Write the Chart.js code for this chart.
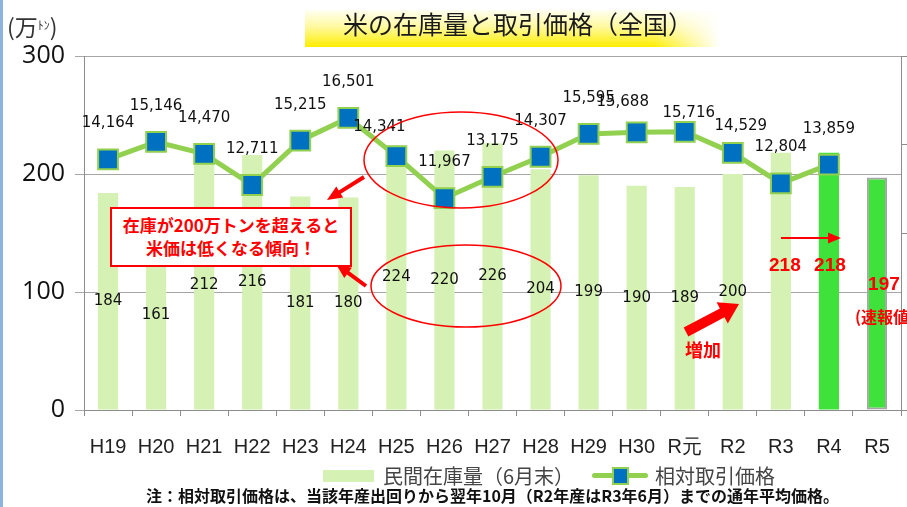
<!DOCTYPE html>
<html>
<head>
<meta charset="utf-8">
<script src="https://cdn.jsdelivr.net/npm/chart.js@4/dist/chart.umd.min.js"></script>
<style>
  html, body { margin: 0; padding: 0; background: #fff; }
  #wrap { position: relative; width: 907px; height: 507px; overflow: hidden; font-family: "Noto Sans CJK JP", sans-serif; }
  #edge { position: absolute; left: 0; top: 0; width: 3px; height: 507px; background: #8fb3e0; }
  #chart { position: absolute; left: 0; top: 0; }
  #band { position: absolute; left: 305px; top: 10px; width: 415px; height: 37px;
    background: linear-gradient(to right, rgba(255,255,255,0) 84%, #fff 100%),
                linear-gradient(to bottom, #fffff2 0%, #fff9a0 45%, #ffee00 100%); }
  #title { position: absolute; left: 343px; top: 8px; font-size: 25px; line-height: 30px; color: #1a1a1a; white-space: nowrap; }
  #unit { position: absolute; left: 7px; top: 11px; font-size: 23px; line-height: 30px; color: #333; white-space: nowrap; }
  #unit small { font-size: 12px; position: relative; top: -6px; }
  #note { position: absolute; left: 0; width: 985px; top: 485px; text-align: center; font-size: 16px; font-weight: 700; line-height: 20px; color: #111; white-space: nowrap; }
  #box { position: absolute; left: 110px; top: 207px; width: 238px; height: 52px; border: 2px solid #ff0000; background: #fff;
    color: #ff0000; font-weight: 700; font-size: 17px; line-height: 23px; text-align: center; padding-top: 4px; box-sizing: content-box; }
  .leg { position: absolute; top: 464px; font-size: 20px; line-height: 24px; color: #444; white-space: nowrap; }
  #sw1 { position: absolute; left: 323px; top: 470px; width: 51px; height: 12px; background: #d5f1b4; }
  #sw2 { position: absolute; left: 592px; top: 473px; width: 56px; height: 5px; background: #92d050; border-radius: 3px; }
  #sw2b { position: absolute; left: 612px; top: 467px; width: 13px; height: 14px; background: #0070c0; border: 2px solid #92d050; }
</style>
</head>
<body>
<div id="wrap">
  <canvas id="chart" width="907" height="507"></canvas>
  <div id="edge"></div>
  <div id="band"></div>
  <div id="title">米の在庫量と取引価格（全国）</div>
  <div id="unit">(万<small>ﾄﾝ</small>)</div>
  <div id="box">在庫が200万トンを超えると<br>米価は低くなる傾向！</div>
  <div id="sw1"></div>
  <div class="leg" style="left:383px">民間在庫量（6月末）</div>
  <div id="sw2"></div><div id="sw2b"></div>
  <div class="leg" style="left:655px">相対取引価格</div>
  <div id="note">注：相対取引価格は、当該年産出回りから翌年10月（R2年産はR3年6月）までの通年平均価格。</div>
</div>
<script>
const categories = ["H19", "H20", "H21", "H22", "H23", "H24", "H25", "H26", "H27", "H28", "H29", "H30", "R元", "R2", "R3", "R4", "R5"];
// 民間在庫量（6月末）, 万トン
const stock = [184, 161, 212, 216, 181, 180, 224, 220, 226, 204, 199, 190, 189, 200, 218, 218, 197];
// 相対取引価格, 円/60kg
const price = [14164, 15146, 14470, 12711, 15215, 16501, 14341, 11967, 13175, 14307, 15595, 15688, 15716, 14529, 12804, 13859, null];
const stockTicks = [0, 100, 200, 300];
const priceTicks = [0, 5000, 10000, 15000, 20000];

// label nudges for the price values (default: straight above the marker)
const priceLabelShift = { 6: [-17, -29], 11: [-14, -30], 12: [4, -19], 13: [8, -27] };

function arrow(ctx, x1, y1, x2, y2, w, hl, hw) {
  const a = Math.atan2(y2 - y1, x2 - x1);
  const len = Math.hypot(x2 - x1, y2 - y1);
  ctx.save();
  ctx.translate(x1, y1);
  ctx.rotate(a);
  ctx.beginPath();
  ctx.moveTo(0, -w / 2);
  ctx.lineTo(len - hl, -w / 2);
  ctx.lineTo(len - hl, -hw / 2);
  ctx.lineTo(len, 0);
  ctx.lineTo(len - hl, hw / 2);
  ctx.lineTo(len - hl, w / 2);
  ctx.lineTo(0, w / 2);
  ctx.closePath();
  ctx.fill();
  ctx.restore();
}

const labels = {
  id: "labels",
  afterDatasetsDraw(chart) {
    const ctx = chart.ctx;
    const bars = chart.getDatasetMeta(1).data;
    const pts = chart.getDatasetMeta(0).data;
    const y = chart.scales.y;
    ctx.save();
    ctx.textAlign = "center";
    ctx.textBaseline = "middle";
    ctx.font = '15px "DejaVu Sans"';
    ctx.fillStyle = "#111";
    bars.forEach((b, i) => {
      if (i < 14) ctx.fillText(String(stock[i]), b.x, (b.y + b.base) / 2);
    });
    pts.forEach((p, i) => {
      if (price[i] == null) return;
      const s = priceLabelShift[i] || [0, -36];
      ctx.fillText(price[i].toLocaleString("en-US"), p.x + s[0], p.y + s[1]);
    });

    // red annotations
    ctx.fillStyle = "#ff0000";
    ctx.strokeStyle = "#ff0000";
    ctx.font = 'bold 19px "Liberation Sans"';
    ctx.fillText(String(stock[14]), bars[14].x + 4, y.getPixelForValue(stock[14] * 0.56));
    ctx.fillText(String(stock[15]), bars[15].x + 1, y.getPixelForValue(stock[15] * 0.56));
    ctx.fillText(String(stock[16]), bars[16].x + 7, y.getPixelForValue(stock[16] * 0.54));
    ctx.font = 'bold 16px "Noto Sans CJK JP"';
    ctx.textAlign = "left";
    ctx.fillText("(速報値)", 855, 317);
    ctx.textAlign = "center";
    ctx.font = 'bold 18px "Noto Sans CJK JP"';
    ctx.fillText("増加", 703, 350);

    ctx.lineWidth = 1.5;
    ctx.beginPath();
    ctx.ellipse(461, 160, 97, 48, 0, 0, Math.PI * 2);
    ctx.stroke();
    ctx.beginPath();
    ctx.ellipse(466, 286, 95, 41, 0, 0, Math.PI * 2);
    ctx.stroke();

    arrow(ctx, 364, 177, 327, 200, 4, 15, 13);
    arrow(ctx, 366, 286, 336, 264, 4, 15, 13);
    arrow(ctx, 781, 238, 841, 238, 2, 13, 11);
    arrow(ctx, 686, 332, 739, 304, 10, 19, 24);
    ctx.restore();
  }
};

new Chart(document.getElementById("chart"), {
  data: {
    labels: categories,
    datasets: [
      {
        type: "line",
        label: "相対取引価格",
        data: price,
        yAxisID: "y1",
        order: 0,
        borderColor: "#92d050",
        borderWidth: 5,
        pointStyle: "rect",
        pointRadius: 14,
        pointBackgroundColor: "#0070c0",
        pointBorderColor: "#92d050",
        pointBorderWidth: 2,
        tension: 0,
        spanGaps: false,
      },
      {
        type: "bar",
        label: "民間在庫量（6月末）",
        data: stock,
        yAxisID: "y",
        order: 1,
        backgroundColor: (c) => (c.dataIndex >= 15 ? "#3ee23a" : "#d5f1b4"),
        borderColor: "#a6a6a6",
        borderWidth: (c) => (c.dataIndex === 16 ? 2 : 0),
        borderSkipped: false,
        barPercentage: 0.42,
        categoryPercentage: 1,
      },
    ],
  },
  options: {
    responsive: false,
    animation: false,
    layout: { autoPadding: false, padding: { top: 56, bottom: 37, left: 0, right: 0 } },
    plugins: { legend: { display: false }, tooltip: { enabled: false } },
    scales: {
      x: {
        grid: { drawOnChartArea: false, tickLength: 6, color: "#8c8c8c", offset: true },
        border: { color: "#8c8c8c" },
        ticks: { font: { family: "Liberation Sans", size: 20, lineHeight: 2 }, color: "#222", padding: 11, maxRotation: 0, autoSkip: false },
        afterFit: (s) => { s.height = 60; },
      },
      y: {
        position: "left",
        min: stockTicks[0],
        max: stockTicks[stockTicks.length - 1],
        afterBuildTicks: (s) => { s.ticks = stockTicks.map((v) => ({ value: v })); },
        ticks: { font: { family: "Open Sans", size: 25 }, color: "#111", padding: 10 },
        grid: { color: "#a6a6a6", tickLength: 9 },
        border: { color: "#8c8c8c" },
        afterFit: (s) => { s.width = 84; },
      },
      y1: {
        position: "right",
        min: priceTicks[0],
        max: priceTicks[priceTicks.length - 1],
        afterBuildTicks: (s) => { s.ticks = priceTicks.map((v) => ({ value: v })); },
        ticks: { display: false },
        grid: { drawOnChartArea: false, tickLength: 6, color: "#8c8c8c" },
        border: { color: "#8c8c8c" },
        afterFit: (s) => { s.width = 6; },
      },
    },
  },
  plugins: [labels],
});
</script>
</body>
</html>
